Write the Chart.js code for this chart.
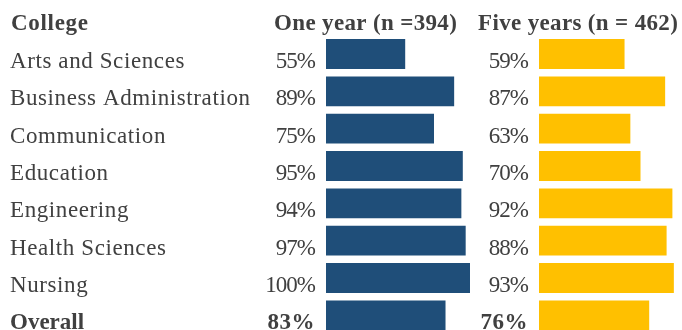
<!DOCTYPE html>
<html>
<head>
<meta charset="utf-8">
<script src="https://cdn.jsdelivr.net/npm/chart.js@4/dist/chart.umd.min.js"></script>
<style>
  html, body { margin: 0; padding: 0; background: #fff; overflow: hidden; }
  #wrap { position: relative; width: 682px; height: 330px; overflow: hidden; }
  canvas { position: absolute; left: 0; top: 0; }
</style>
</head>
<body>
<div id="wrap">
  <canvas id="oneYearChart" width="690" height="340"></canvas>
  <canvas id="fiveYearChart" width="690" height="340"></canvas>
</div>
<script>
// data
const colleges = ['Arts and Sciences', 'Business Administration', 'Communication', 'Education',
                  'Engineering', 'Health Sciences', 'Nursing', 'Overall'];
const oneYear = [55, 89, 75, 95, 94, 97, 100, 83];
const fiveYears = [59, 87, 63, 70, 92, 88, 93, 76];
const headers = ['College', 'One year (n =394)', 'Five years (n = 462)'];

const FONT = '"Liberation Serif", "Times New Roman", serif';
const TEXT_COLOR = '#404040';

// draws the row labels, percentages and column headers next to the bars
function tablePlugin(opts) {
    return {
        id: 'tableText',
        afterDraw(chart) {
            const ctx = chart.ctx;
            const yScale = chart.scales.y;
            const values = chart.data.datasets[0].data;
            ctx.save();
            ctx.fillStyle = TEXT_COLOR;
            ctx.textBaseline = 'alphabetic';

            ctx.font = 'bold 23px ' + FONT;
            ctx.textAlign = 'left';
            opts.headers.forEach(h => {
                ctx.letterSpacing = h.spacing;
                ctx.fillText(h.text, h.x, 30);
            });

            chart.data.labels.forEach((label, i) => {
                const y = yScale.getPixelForValue(i) + 14;
                const last = i === chart.data.labels.length - 1;
                ctx.font = (last ? 'bold ' : '') + '23px ' + FONT;
                if (opts.names) {
                    ctx.textAlign = 'left';
                    ctx.letterSpacing = last ? '0px' : '0.6px';
                    ctx.fillText(label, 10, y);
                }
                ctx.textAlign = 'right';
                ctx.letterSpacing = last ? '0.5px' : '-1px';
                ctx.fillText(values[i] + '%', opts.pctX, y);
            });
            ctx.restore();
        }
    };
}

function makeChart(id, values, color, padLeft, padRight, plugin) {
    const ctx = document.getElementById(id).getContext('2d');
    return new Chart(ctx, {
        type: 'bar',
        data: {
            labels: colleges,
            datasets: [{
                data: values,
                backgroundColor: color,
                borderWidth: 0,
                barPercentage: 0.8,
                categoryPercentage: 1
            }]
        },
        options: {
            responsive: false,
            animation: false,
            indexAxis: 'y',
            layout: {
                padding: { left: padLeft, right: padRight, top: 35.33, bottom: 6 }
            },
            scales: {
                x: { display: false, min: 0, max: 100 },
                y: { display: false }
            },
            plugins: {
                legend: { display: false },
                tooltip: { enabled: false }
            }
        },
        plugins: [plugin]
    });
}

makeChart('oneYearChart', oneYear, '#1F4E79', 326, 220,
    tablePlugin({ names: true, pctX: 315, headers: [
        { text: headers[0], x: 11, spacing: '0.7px' },
        { text: headers[1], x: 274, spacing: '0.35px' }] }));
makeChart('fiveYearChart', fiveYears, '#FFC000', 539, 6,
    tablePlugin({ names: false, pctX: 528, headers: [
        { text: headers[2], x: 478, spacing: '0.35px' }] }));
</script>
</body>
</html>
